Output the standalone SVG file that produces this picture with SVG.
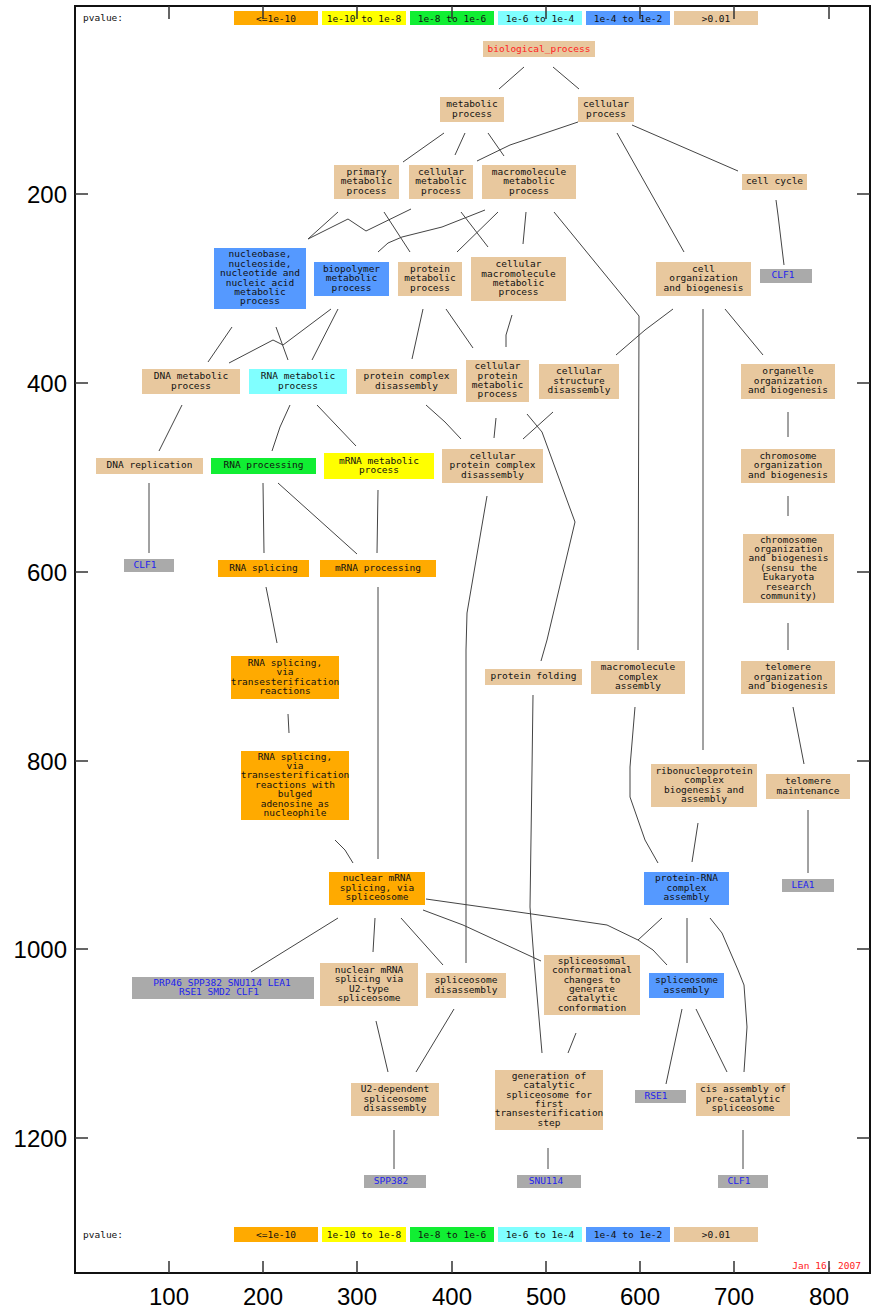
<svg xmlns="http://www.w3.org/2000/svg" width="875" height="1311" viewBox="0 0 875 1311">
<style>
text{font-family:"DejaVu Sans Mono","Liberation Mono",monospace;font-size:9.5px;fill:#111;text-anchor:middle}
g[id^="n_"] text,g[id^="g_"] text{transform:translate(0px,-1px)}
.ax{font-family:"Liberation Sans",Arial,sans-serif;font-size:24px;fill:#000}
.ta{fill:#E8C89E}.or{fill:#FFAA00}.ye{fill:#FFFF00}.gn{fill:#11EE33}.cy{fill:#80FFFF}.bl{fill:#5599FF}.gr{fill:#AAAAAA}
.gene{fill:#2222EE}
.red{fill:#FF2222}
#edges polyline,#edges line{fill:none;stroke:#444;stroke-width:1}
.tick{stroke:#333;stroke-width:1.5}
</style>
<rect width="875" height="1311" fill="#fff"/>
<g id="legend-top">
<text x="83" y="21" style="text-anchor:start">pvalue:</text>
<rect class="or" x="234" y="11" width="84" height="14"/><text x="276" y="21.5">&lt;=1e-10</text>
<rect class="ye" x="322" y="11" width="84" height="14"/><text x="364" y="21.5">1e-10 to 1e-8</text>
<rect class="gn" x="410" y="11" width="84" height="14"/><text x="452" y="21.5">1e-8 to 1e-6</text>
<rect class="cy" x="498" y="11" width="84" height="14"/><text x="540" y="21.5">1e-6 to 1e-4</text>
<rect class="bl" x="586" y="11" width="84" height="14"/><text x="628" y="21.5">1e-4 to 1e-2</text>
<rect class="ta" x="674" y="11" width="84" height="14"/><text x="716" y="21.5">&gt;0.01</text>
</g>
<g id="legend-bottom">
<text x="83" y="1238" style="text-anchor:start">pvalue:</text>
<rect class="or" x="234" y="1227" width="84" height="15"/><text x="276" y="1238">&lt;=1e-10</text>
<rect class="ye" x="322" y="1227" width="84" height="15"/><text x="364" y="1238">1e-10 to 1e-8</text>
<rect class="gn" x="410" y="1227" width="84" height="15"/><text x="452" y="1238">1e-8 to 1e-6</text>
<rect class="cy" x="498" y="1227" width="84" height="15"/><text x="540" y="1238">1e-6 to 1e-4</text>
<rect class="bl" x="586" y="1227" width="84" height="15"/><text x="628" y="1238">1e-4 to 1e-2</text>
<rect class="ta" x="674" y="1227" width="84" height="15"/><text x="716" y="1238">&gt;0.01</text>
</g>
<text class="red" x="861" y="1269" style="text-anchor:end">Jan 16, 2007</text>
<g id="edges">
<line x1="524" y1="67" x2="499" y2="89"/>
<line x1="553" y1="67" x2="579" y2="89"/>
<line x1="444" y1="133" x2="403" y2="162"/>
<line x1="465" y1="133" x2="455" y2="155"/>
<line x1="488" y1="133" x2="504" y2="156"/>
<polyline points="578,122 510,145 477,161"/>
<line x1="632" y1="125" x2="738" y2="171"/>
<line x1="617" y1="133" x2="684" y2="252"/>
<polyline points="776,200 778,215 784,265"/>
<line x1="338" y1="212" x2="308" y2="239"/>
<polyline points="411,209 366,231 348,219 308,239"/>
<line x1="384" y1="212" x2="410" y2="252"/>
<polyline points="485,210 442,227 402,237 388,243 378,252"/>
<line x1="461" y1="212" x2="488" y2="247"/>
<line x1="498" y1="212" x2="457" y2="252"/>
<line x1="526" y1="212" x2="523" y2="244"/>
<polyline points="554,212 639,316 638,650"/>
<line x1="232" y1="327" x2="208" y2="362"/>
<line x1="276" y1="327" x2="288" y2="360"/>
<polyline points="331,309 283,345 273,340 229,363"/>
<line x1="338" y1="309" x2="312" y2="360"/>
<line x1="423" y1="309" x2="412" y2="359"/>
<line x1="446" y1="309" x2="473" y2="348"/>
<polyline points="512,315 506,335 506,347"/>
<polyline points="673,309 645,330 616,355"/>
<line x1="703" y1="309" x2="703" y2="750"/>
<line x1="725" y1="309" x2="763" y2="355"/>
<line x1="182" y1="405" x2="159" y2="451"/>
<polyline points="290,405 280,427 272,451"/>
<line x1="317" y1="405" x2="356" y2="446"/>
<polyline points="426,405 445,422 461,439"/>
<line x1="496" y1="418" x2="494" y2="438"/>
<line x1="553" y1="412" x2="523" y2="439"/>
<polyline points="527,414 542,432 575,522 547,640 541,661"/>
<line x1="788" y1="412" x2="788" y2="437"/>
<line x1="149" y1="483" x2="149" y2="553"/>
<line x1="263" y1="483" x2="264" y2="553"/>
<line x1="278" y1="483" x2="357" y2="554"/>
<line x1="378" y1="490" x2="377" y2="553"/>
<polyline points="487,496 467,613 466,650 466,963"/>
<line x1="788" y1="496" x2="788" y2="516"/>
<polyline points="266,587 271,612 277,643"/>
<line x1="378" y1="587" x2="378" y2="859"/>
<line x1="788" y1="623" x2="788" y2="650"/>
<line x1="288" y1="714" x2="289" y2="733"/>
<polyline points="533,695 532,770 530,907 534,960 542,1053"/>
<polyline points="635,707 630,767 630,797 645,840 658,863"/>
<line x1="793" y1="707" x2="804" y2="764"/>
<line x1="698" y1="823" x2="692" y2="862"/>
<line x1="808" y1="810" x2="808" y2="873"/>
<polyline points="335,840 345,850 353,863"/>
<line x1="338" y1="918" x2="251" y2="972"/>
<line x1="375" y1="918" x2="373" y2="952"/>
<line x1="401" y1="918" x2="443" y2="965"/>
<polyline points="423,910 463,925 541,961"/>
<polyline points="426,899 532,914 607,925 638,940 653,950 667,965"/>
<line x1="662" y1="918" x2="638" y2="940"/>
<line x1="687" y1="918" x2="687" y2="963"/>
<polyline points="710,918 722,933 738,970 744,985 747,1027 744,1072"/>
<line x1="376" y1="1021" x2="388" y2="1072"/>
<line x1="454" y1="1009" x2="416" y2="1072"/>
<line x1="576" y1="1033" x2="568" y2="1053"/>
<line x1="682" y1="1009" x2="666" y2="1084"/>
<line x1="696" y1="1009" x2="727" y2="1072"/>
<line x1="394" y1="1130" x2="394" y2="1169"/>
<line x1="548" y1="1148" x2="548" y2="1169"/>
<line x1="743" y1="1130" x2="743" y2="1169"/>
</g>
<g id="n_bp"><rect class="ta" x="483" y="41" width="112" height="16"/><text class="red" x="539" y="52.5">biological_process</text></g>
<g id="n_metabolic"><rect class="ta" x="440" y="97" width="64" height="25"/><text><tspan x="472" y="108.1">metabolic</tspan><tspan x="472" y="117.5">process</tspan></text></g>
<g id="n_cellular"><rect class="ta" x="578" y="97" width="56" height="25"/><text><tspan x="606" y="108.1">cellular</tspan><tspan x="606" y="117.5">process</tspan></text></g>
<g id="n_primary"><rect class="ta" x="334" y="165" width="65" height="34"/><text><tspan x="366.5" y="175.9">primary</tspan><tspan x="366.5" y="185.3">metabolic</tspan><tspan x="366.5" y="194.7">process</tspan></text></g>
<g id="n_cellmet"><rect class="ta" x="409" y="165" width="64" height="34"/><text><tspan x="441" y="175.9">cellular</tspan><tspan x="441" y="185.3">metabolic</tspan><tspan x="441" y="194.7">process</tspan></text></g>
<g id="n_macromet"><rect class="ta" x="482" y="165" width="94" height="34"/><text><tspan x="529" y="175.9">macromolecule</tspan><tspan x="529" y="185.3">metabolic</tspan><tspan x="529" y="194.7">process</tspan></text></g>
<g id="n_cellcycle"><rect class="ta" x="742" y="174" width="65" height="16"/><text x="774.5" y="185.3">cell cycle</text></g>
<g id="g_clf1a"><rect class="gr" x="760" y="269" width="52" height="14"/><text class="gene" x="783" y="279.3">CLF1</text></g>
<g id="n_nucleobase"><rect class="bl" x="214" y="248" width="92" height="61"/><text><tspan x="260" y="258.3">nucleobase,</tspan><tspan x="260" y="267.7">nucleoside,</tspan><tspan x="260" y="277.1">nucleotide and</tspan><tspan x="260" y="286.5">nucleic acid</tspan><tspan x="260" y="295.9">metabolic</tspan><tspan x="260" y="305.3">process</tspan></text></g>
<g id="n_biopolymer"><rect class="bl" x="314" y="262" width="75" height="34"/><text><tspan x="351.5" y="272.9">biopolymer</tspan><tspan x="351.5" y="282.3">metabolic</tspan><tspan x="351.5" y="291.7">process</tspan></text></g>
<g id="n_protmet"><rect class="ta" x="398" y="262" width="64" height="34"/><text><tspan x="430" y="272.9">protein</tspan><tspan x="430" y="282.3">metabolic</tspan><tspan x="430" y="291.7">process</tspan></text></g>
<g id="n_cellmacro"><rect class="ta" x="471" y="257" width="95" height="44"/><text><tspan x="518.5" y="268.2">cellular</tspan><tspan x="518.5" y="277.6">macromolecule</tspan><tspan x="518.5" y="287">metabolic</tspan><tspan x="518.5" y="296.4">process</tspan></text></g>
<g id="n_cellorg"><rect class="ta" x="656" y="262" width="95" height="34"/><text><tspan x="703.5" y="272.9">cell</tspan><tspan x="703.5" y="282.3">organization</tspan><tspan x="703.5" y="291.7">and biogenesis</tspan></text></g>
<g id="n_dnamet"><rect class="ta" x="142" y="369" width="98" height="25"/><text><tspan x="191" y="380.1">DNA metabolic</tspan><tspan x="191" y="389.5">process</tspan></text></g>
<g id="n_rnamet"><rect class="cy" x="249" y="369" width="98" height="25"/><text><tspan x="298" y="380.1">RNA metabolic</tspan><tspan x="298" y="389.5">process</tspan></text></g>
<g id="n_pcd"><rect class="ta" x="356" y="369" width="101" height="25"/><text><tspan x="406.5" y="380.1">protein complex</tspan><tspan x="406.5" y="389.5">disassembly</tspan></text></g>
<g id="n_cpm"><rect class="ta" x="466" y="360" width="63" height="42"/><text><tspan x="497.5" y="370.2">cellular</tspan><tspan x="497.5" y="379.6">protein</tspan><tspan x="497.5" y="389">metabolic</tspan><tspan x="497.5" y="398.4">process</tspan></text></g>
<g id="n_csd"><rect class="ta" x="539" y="364" width="80" height="35"/><text><tspan x="579" y="375.4">cellular</tspan><tspan x="579" y="384.8">structure</tspan><tspan x="579" y="394.2">disassembly</tspan></text></g>
<g id="n_organelle"><rect class="ta" x="741" y="364" width="94" height="35"/><text><tspan x="788" y="375.4">organelle</tspan><tspan x="788" y="384.8">organization</tspan><tspan x="788" y="394.2">and biogenesis</tspan></text></g>
<g id="n_dnarep"><rect class="ta" x="96" y="458" width="107" height="16"/><text x="149.5" y="469.3">DNA replication</text></g>
<g id="n_rnaproc"><rect class="gn" x="211" y="458" width="105" height="16"/><text x="263.5" y="469.3">RNA processing</text></g>
<g id="n_mrnamet"><rect class="ye" x="324" y="453" width="110" height="26"/><text><tspan x="379" y="464.6">mRNA metabolic</tspan><tspan x="379" y="474">process</tspan></text></g>
<g id="n_cpcd"><rect class="ta" x="442" y="449" width="101" height="34"/><text><tspan x="492.5" y="459.9">cellular</tspan><tspan x="492.5" y="469.3">protein complex</tspan><tspan x="492.5" y="478.7">disassembly</tspan></text></g>
<g id="n_chrom"><rect class="ta" x="741" y="449" width="94" height="34"/><text><tspan x="788" y="459.9">chromosome</tspan><tspan x="788" y="469.3">organization</tspan><tspan x="788" y="478.7">and biogenesis</tspan></text></g>
<g id="g_clf1b"><rect class="gr" x="124" y="559" width="50" height="13"/><text class="gene" x="145" y="568.8">CLF1</text></g>
<g id="n_rnasplice"><rect class="or" x="218" y="560" width="91" height="17"/><text x="263.5" y="571.8">RNA splicing</text></g>
<g id="n_mrnaproc"><rect class="or" x="320" y="560" width="116" height="17"/><text x="378" y="571.8">mRNA processing</text></g>
<g id="n_chromsensu"><rect class="ta" x="743" y="534" width="91" height="69"/><text><tspan x="788.5" y="543.6">chromosome</tspan><tspan x="788.5" y="553">organization</tspan><tspan x="788.5" y="562.4">and biogenesis</tspan><tspan x="788.5" y="571.8">(sensu the</tspan><tspan x="788.5" y="581.2">Eukaryota</tspan><tspan x="788.5" y="590.6">research</tspan><tspan x="788.5" y="600">community)</tspan></text></g>
<g id="n_trans"><rect class="or" x="231" y="656" width="108" height="43"/><text><tspan x="285" y="666.7">RNA splicing,</tspan><tspan x="285" y="676.1">via</tspan><tspan x="285" y="685.5">transesterification</tspan><tspan x="285" y="694.9">reactions</tspan></text></g>
<g id="n_protfold"><rect class="ta" x="485" y="669" width="97" height="16"/><text x="533.5" y="680.3">protein folding</text></g>
<g id="n_mca"><rect class="ta" x="591" y="661" width="94" height="33"/><text><tspan x="638" y="671.4">macromolecule</tspan><tspan x="638" y="680.8">complex</tspan><tspan x="638" y="690.2">assembly</tspan></text></g>
<g id="n_telorg"><rect class="ta" x="741" y="661" width="94" height="33"/><text><tspan x="788" y="671.4">telomere</tspan><tspan x="788" y="680.8">organization</tspan><tspan x="788" y="690.2">and biogenesis</tspan></text></g>
<g id="n_bulged"><rect class="or" x="241" y="751" width="108" height="69"/><text><tspan x="295" y="760.6">RNA splicing,</tspan><tspan x="295" y="770">via</tspan><tspan x="295" y="779.4">transesterification</tspan><tspan x="295" y="788.8">reactions with</tspan><tspan x="295" y="798.2">bulged</tspan><tspan x="295" y="807.6">adenosine as</tspan><tspan x="295" y="817">nucleophile</tspan></text></g>
<g id="n_rnp"><rect class="ta" x="651" y="764" width="106" height="43"/><text><tspan x="704" y="774.7">ribonucleoprotein</tspan><tspan x="704" y="784.1">complex</tspan><tspan x="704" y="793.5">biogenesis and</tspan><tspan x="704" y="802.9">assembly</tspan></text></g>
<g id="n_telmaint"><rect class="ta" x="766" y="774" width="84" height="25"/><text><tspan x="808" y="785.1">telomere</tspan><tspan x="808" y="794.5">maintenance</tspan></text></g>
<g id="n_nuclear"><rect class="or" x="329" y="872" width="96" height="33"/><text><tspan x="377" y="882.4">nuclear mRNA</tspan><tspan x="377" y="891.8">splicing, via</tspan><tspan x="377" y="901.2">spliceosome</tspan></text></g>
<g id="n_protrna"><rect class="bl" x="644" y="872" width="85" height="33"/><text><tspan x="686.5" y="882.4">protein-RNA</tspan><tspan x="686.5" y="891.8">complex</tspan><tspan x="686.5" y="901.2">assembly</tspan></text></g>
<g id="g_lea1"><rect class="gr" x="782" y="879" width="52" height="13"/><text class="gene" x="803" y="888.8">LEA1</text></g>
<g id="g_prp46"><rect class="gr" x="132" y="977" width="182" height="22"/><text class="gene"><tspan x="222" y="986.6">PRP46 SPP382 SNU114 LEA1</tspan><tspan x="219" y="996">RSE1 SMD2 CLF1</tspan></text></g>
<g id="n_u2type"><rect class="ta" x="320" y="963" width="98" height="43"/><text><tspan x="369" y="973.7">nuclear mRNA</tspan><tspan x="369" y="983.1">splicing via</tspan><tspan x="369" y="992.5">U2-type</tspan><tspan x="369" y="1001.9">spliceosome</tspan></text></g>
<g id="n_spldis"><rect class="ta" x="426" y="973" width="80" height="25"/><text><tspan x="466" y="984.1">spliceosome</tspan><tspan x="466" y="993.5">disassembly</tspan></text></g>
<g id="n_splconf"><rect class="ta" x="544" y="955" width="96" height="60"/><text><tspan x="592" y="964.8">spliceosomal</tspan><tspan x="592" y="974.2">conformational</tspan><tspan x="592" y="983.6">changes to</tspan><tspan x="592" y="993">generate</tspan><tspan x="592" y="1002.4">catalytic</tspan><tspan x="592" y="1011.8">conformation</tspan></text></g>
<g id="n_splasm"><rect class="bl" x="649" y="973" width="75" height="25"/><text><tspan x="686.5" y="984.1">spliceosome</tspan><tspan x="686.5" y="993.5">assembly</tspan></text></g>
<g id="n_u2dep"><rect class="ta" x="351" y="1083" width="88" height="33"/><text><tspan x="395" y="1093.4">U2-dependent</tspan><tspan x="395" y="1102.8">spliceosome</tspan><tspan x="395" y="1112.2">disassembly</tspan></text></g>
<g id="n_gencat"><rect class="ta" x="495" y="1070" width="108" height="60"/><text><tspan x="549" y="1079.8">generation of</tspan><tspan x="549" y="1089.2">catalytic</tspan><tspan x="549" y="1098.6">spliceosome for</tspan><tspan x="549" y="1108">first</tspan><tspan x="549" y="1117.4">transesterification</tspan><tspan x="549" y="1126.8">step</tspan></text></g>
<g id="g_rse1"><rect class="gr" x="635" y="1090" width="51" height="13"/><text class="gene" x="656" y="1099.8">RSE1</text></g>
<g id="n_cis"><rect class="ta" x="696" y="1083" width="94" height="33"/><text><tspan x="743" y="1093.4">cis assembly of</tspan><tspan x="743" y="1102.8">pre-catalytic</tspan><tspan x="743" y="1112.2">spliceosome</tspan></text></g>
<g id="g_spp382"><rect class="gr" x="364" y="1175" width="62" height="13"/><text class="gene" x="391" y="1184.8">SPP382</text></g>
<g id="g_snu114"><rect class="gr" x="517" y="1175" width="64" height="13"/><text class="gene" x="546" y="1184.8">SNU114</text></g>
<g id="g_clf1c"><rect class="gr" x="718" y="1175" width="50" height="13"/><text class="gene" x="739" y="1184.8">CLF1</text></g>
<g id="axes">
<rect x="75" y="6" width="795" height="1267" fill="none" stroke="#111" stroke-width="2"/>
<path class="tick" d="M169,6V19M263,6V19M357,6V19M452,6V19M546,6V19M640,6V19M734,6V19M829,6V19M169,1273V1261M263,1273V1261M357,1273V1261M452,1273V1261M546,1273V1261M640,1273V1261M734,1273V1261M829,1273V1261M75,194H88M75,383H88M75,572H88M75,761H88M75,949H88M75,1138H88M870,194H857M870,383H857M870,572H857M870,761H857M870,949H857M870,1138H857"/>
<text class="ax" x="169" y="1305">100</text><text class="ax" x="263" y="1305">200</text><text class="ax" x="357" y="1305">300</text><text class="ax" x="452" y="1305">400</text><text class="ax" x="546" y="1305">500</text><text class="ax" x="640" y="1305">600</text><text class="ax" x="734" y="1305">700</text><text class="ax" x="829" y="1305">800</text>
<text class="ax" x="67" y="203" style="text-anchor:end">200</text><text class="ax" x="67" y="392" style="text-anchor:end">400</text><text class="ax" x="67" y="581" style="text-anchor:end">600</text><text class="ax" x="67" y="770" style="text-anchor:end">800</text><text class="ax" x="67" y="958" style="text-anchor:end">1000</text><text class="ax" x="67" y="1147" style="text-anchor:end">1200</text>
</g>
</svg>
